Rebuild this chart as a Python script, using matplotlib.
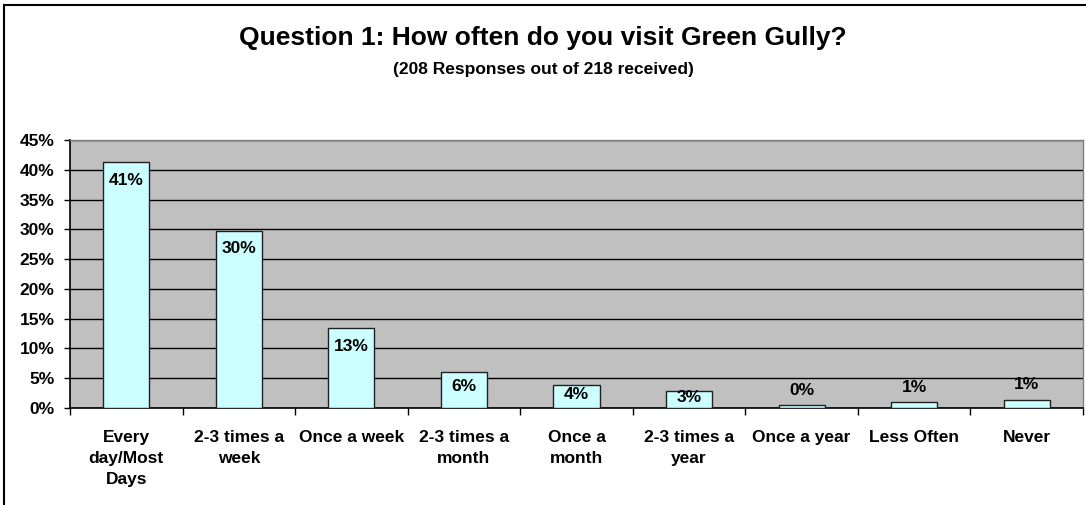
import matplotlib
matplotlib.use("Agg")
import matplotlib.pyplot as plt
from matplotlib.lines import Line2D
import numpy as np

# Question 1 responses, share of 208 answers (%)
categories = [
    "Every\nday/Most\nDays", "2-3 times a\nweek", "Once a week",
    "2-3 times a\nmonth", "Once a\nmonth", "2-3 times a\nyear",
    "Once a year", "Less Often", "Never",
]
shares = [41.3, 29.8, 13.4, 6.1, 3.8, 2.8, 0.45, 1.0, 1.4]
yticks = [0, 5, 10, 15, 20, 25, 30, 35, 40, 45]

title = "Question 1: How often do you visit Green Gully?"
subtitle = "(208 Responses out of 218 received)"

plt.rcParams["font.family"] = ["Liberation Sans", "DejaVu Sans"]
plt.rcParams["font.weight"] = "bold"

W, H, DPI = 1086, 505, 100
fig = plt.figure(figsize=(W / DPI, H / DPI), dpi=DPI)
ax = fig.add_axes([70 / W, 1 - 408 / H, (1083 - 70) / W, (408 - 140) / H])

x = np.arange(len(categories))
ax.set_facecolor("#C0C0C0")
ax.bar(x, shares, width=0.41, color="#CCFFFF", edgecolor="#202020",
       linewidth=1.0, zorder=3)

ax.set_xlim(-0.5, len(categories) - 0.5)
ax.set_ylim(0, 45)
ax.set_yticks(yticks)
ax.set_yticklabels([f"{t}%" for t in yticks], fontsize=12.5, fontweight="bold")
ax.yaxis.grid(True, color="black", linewidth=1.0, zorder=1)
ax.set_axisbelow(True)
ax.tick_params(axis="y", length=4, width=1, pad=7)

# category labels at centres, tick marks at boundaries (Excel style)
ax.set_xticks(x)
ax.set_xticklabels(categories, fontsize=12.5, fontweight="bold",
                   linespacing=1.5)
ax.tick_params(axis="x", which="major", length=0, pad=15.5)
ax.set_xticks(np.arange(len(categories) + 1) - 0.5, minor=True)
ax.tick_params(axis="x", which="minor", length=5, width=1, direction="out")

for side in ("left", "bottom"):
    ax.spines[side].set_color("black")
    ax.spines[side].set_linewidth(1.2)
for side in ("top", "right"):
    ax.spines[side].set_color("#808080")
    ax.spines[side].set_linewidth(1.0)

# value labels: inside the top of tall bars, above the short ones
px_per_unit = ax.get_window_extent().height / 45.0
for xi, v in zip(x, shares):
    h = v * px_per_unit
    if v >= 2:
        dy = -min(18, 0.4 * h)
    else:
        dy = 15
    ax.annotate(f"{v:.0f}%", (xi, v), xytext=(0, dy * 72 / DPI),
                textcoords="offset points", ha="center", va="center",
                fontsize=12.5, fontweight="bold", zorder=4)

fig.text(0.5, 1 - 45 / H, title, ha="center", va="baseline",
         fontsize=19, fontweight="bold")
fig.text(0.5, 1 - 74 / H, subtitle, ha="center", va="baseline",
         fontsize=12.5, fontweight="bold")

# chart frame (only top and left edges fall inside the picture)
fig.add_artist(Line2D([4 / W, 1], [1 - 5 / H, 1 - 5 / H],
                      transform=fig.transFigure, color="black", linewidth=1.5))
fig.add_artist(Line2D([4 / W, 4 / W], [0, 1 - 5 / H],
                      transform=fig.transFigure, color="black", linewidth=1.5))

fig.savefig("out.png", dpi=DPI)
